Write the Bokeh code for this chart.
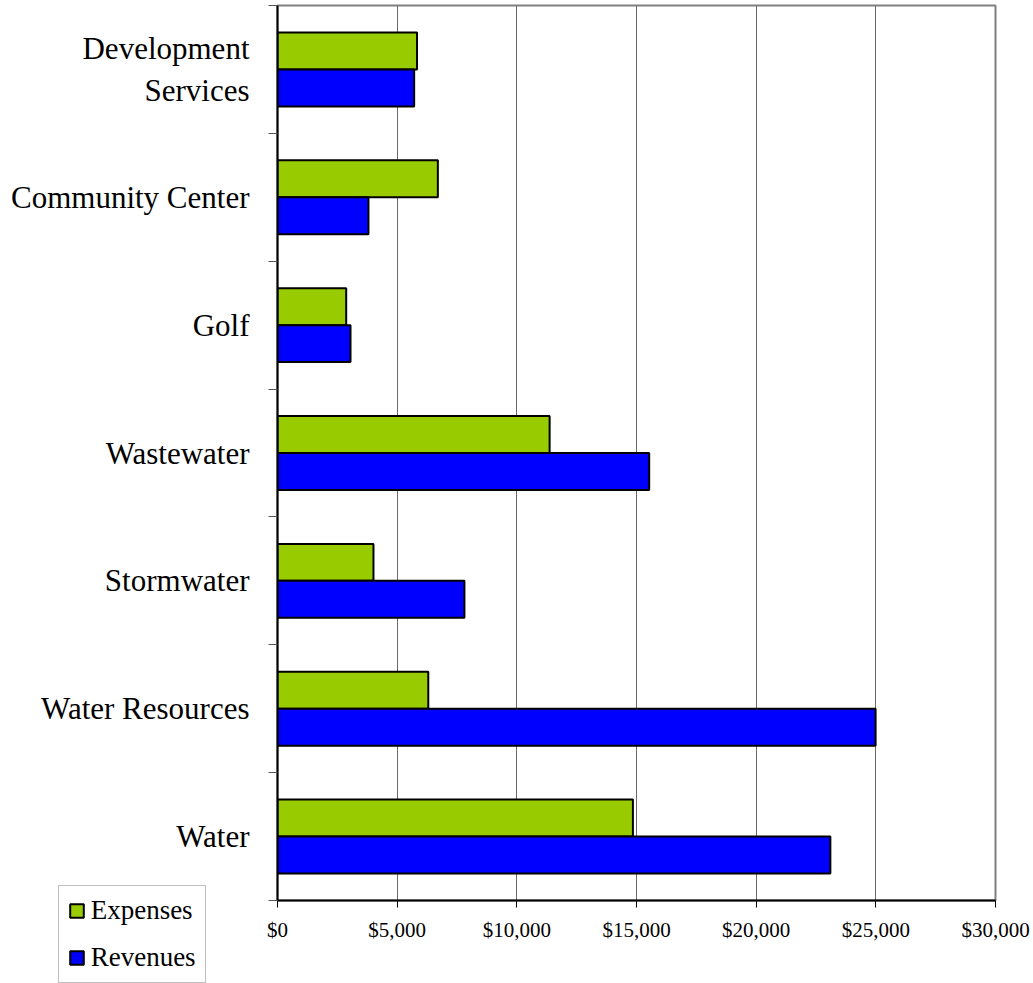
from bokeh.plotting import figure
from bokeh.layouts import column
from bokeh.models import (Range1d, FixedTicker, NumeralTickFormatter, Legend, LegendItem,
                          ColumnDataSource)
from bokeh.embed import file_html
from bokeh.resources import INLINE

# ---- data (bottom to top) ----
categories = ["Water", "Water Resources", "Stormwater", "Wastewater", "Golf",
              "Community Center", "Development\nServices"]
expenses = [14850, 6300, 4010, 11370, 2870, 6700, 5830]
revenues = [23100, 24990, 7810, 15530, 3050, 3800, 5710]
x_ticks = [0, 5000, 10000, 15000, 20000, 25000, 30000]
series_names = ["Expenses", "Revenues"]

FONT = "Liberation Serif"
GREEN = "#99CC00"
BLUE = "#0000FF"

centers = [i + 0.5 for i in range(len(categories))]
bar_h = 0.289
src = ColumnDataSource(dict(
    cat=categories,
    y_exp=[c + bar_h / 2 for c in centers],
    y_rev=[c - bar_h / 2 for c in centers],
    exp=expenses,
    rev=revenues,
))

p = figure(width=1033, height=983, output_backend="svg", toolbar_location=None,
           x_range=Range1d(0, 30000), y_range=Range1d(0, len(categories)),
           min_border_left=277, min_border_right=38, min_border_top=5,
           min_border_bottom=83)
p.background_fill_color = "white"
p.border_fill_color = "white"
p.outline_line_color = "#808080"
p.outline_line_width = 2

p.hbar(y="y_exp", right="exp", left=0, height=bar_h, source=src,
       fill_color=GREEN, line_color="black", line_width=2)
p.hbar(y="y_rev", right="rev", left=0, height=bar_h, source=src,
       fill_color=BLUE, line_color="black", line_width=2)

# x axis
xa = p.xaxis[0]
xa.ticker = FixedTicker(ticks=x_ticks)
xa.formatter = NumeralTickFormatter(format="$0,0")
xa.axis_line_color = "black"
xa.axis_line_width = 2
xa.major_tick_out = 7
xa.major_tick_in = 0
xa.major_tick_line_color = "black"
xa.minor_tick_out = 0
xa.minor_tick_in = 0
xa.major_label_text_font = FONT
xa.major_label_text_font_size = "21px"
xa.major_label_text_color = "black"
xa.major_label_standoff = 10

# y axis: labels at centres, ticks at band boundaries
ya = p.yaxis[0]
ya.ticker = FixedTicker(ticks=centers, minor_ticks=list(range(len(categories) + 1)))
ya.major_label_overrides = {c: lab for c, lab in zip(centers, categories)}
ya.axis_line_color = "black"
ya.axis_line_width = 2
ya.major_tick_out = 0
ya.major_tick_in = 0
ya.minor_tick_out = 9
ya.minor_tick_in = 0
ya.minor_tick_line_color = "#555555"
ya.major_label_text_font = FONT
ya.major_label_text_font_size = "31px"
ya.major_label_text_color = "black"
ya.major_label_standoff = 19

p.xgrid.ticker = FixedTicker(ticks=x_ticks)
p.xgrid.grid_line_color = "#6a6a6a"
p.xgrid.grid_line_width = 1
p.ygrid.grid_line_color = None

# ---- legend, drawn in a small overlapping figure at the lower left ----
# (its series renderers use the same data, but ranges keep them out of view)
lf = figure(width=160, height=99, output_backend="svg", toolbar_location=None,
            x_axis_location=None, y_axis_location=None, min_border=0,
            x_range=Range1d(-2, -1), y_range=Range1d(-2, -1))
lf.outline_line_color = None
lf.background_fill_alpha = 0
lf.border_fill_alpha = 0
lf.xgrid.visible = False
lf.ygrid.visible = False
le = lf.hbar(y="y_exp", right="exp", left=0, height=bar_h, source=src,
             fill_color=GREEN, line_color="black", line_width=2)
lr = lf.hbar(y="y_rev", right="rev", left=0, height=bar_h, source=src,
             fill_color=BLUE, line_color="black", line_width=2)

legend = Legend(items=[LegendItem(label=series_names[0], renderers=[le]),
                       LegendItem(label=series_names[1], renderers=[lr])],
                location="top_left")
legend.border_line_color = "#808080"
legend.border_line_width = 1
legend.background_fill_color = "white"
legend.background_fill_alpha = 1
legend.label_text_font = FONT
legend.label_text_font_size = "27px"
legend.label_text_color = "black"
legend.glyph_width = 17
legend.glyph_height = 17
legend.label_standoff = 6
legend.spacing = 16
legend.padding = 9
legend.margin = 1
lf.add_layout(legend, "center")
lf.margin = (-99, 0, 0, 55)

layout = column(p, lf)
layout.spacing = 0
open("out.html", "w").write(file_html(layout, INLINE))
